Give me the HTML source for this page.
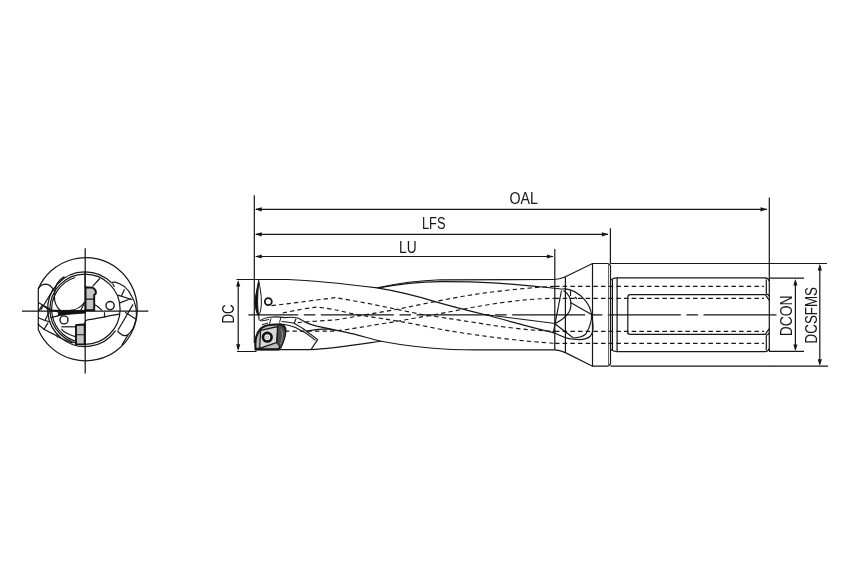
<!DOCTYPE html>
<html><head><meta charset="utf-8">
<style>
html,body{margin:0;padding:0;background:#fff;width:850px;height:567px;overflow:hidden}
svg{display:block;will-change:transform}
text{font-family:"Liberation Sans",sans-serif;font-size:16.3px;fill:#161616}
</style></head>
<body>
<svg width="850" height="567" viewBox="0 0 850 567">
<rect width="850" height="567" fill="#fff"/>
<!-- ===== dimensions ===== -->
<g fill="none" stroke="#161616" stroke-width="1.2">
<path d="M254.3,195.2V343 M554.8,248.9V350 M610.4,228.2V263.5 M769.3,197.6V351"/>
<path d="M256,209.3H767 M256,234.3H608 M256,256.5H553"/>
<path d="M236.5,279.5H254 M237,351.5H256.5 M769,278.1H804 M769,351.4H804 M769,263.5H827 M769,366.2H828"/>
<path d="M238.2,282V349 M795.4,281V349.5 M819.8,266V363.5"/>
</g>
<g fill="#161616" stroke="none">
<path d="M254.9,209.3l6.8,-2.1l0,4.2z M767.3,209.3l-6.8,-2.1l0,4.2z"/>
<path d="M254.9,234.3l6.8,-2.1l0,4.2z M608.7,234.3l-6.8,-2.1l0,4.2z"/>
<path d="M254.9,256.5l6.8,-2.1l0,4.2z M553.7,256.5l-6.8,-2.1l0,4.2z"/>
<path d="M238.2,279.9l-2.1,6.6l4.2,0z M238.2,350.9l-2.1,-6.6l4.2,0z"/>
<path d="M795.4,279.0l-2.1,6.6l4.2,0z M795.4,351.0l-2.1,-6.6l4.2,0z"/>
<path d="M819.8,263.8l-2.1,6.7l4.2,0z M819.8,365.9l-2.1,-6.7l4.2,0z"/>
</g>
<text x="509.5" y="204.2" textLength="28.5" lengthAdjust="spacingAndGlyphs">OAL</text>
<text x="422" y="228.5" textLength="23.5" lengthAdjust="spacingAndGlyphs">LFS</text>
<text x="399" y="252.6" textLength="17.6" lengthAdjust="spacingAndGlyphs">LU</text>
<text transform="translate(233.9,323.6) rotate(-90)" textLength="19.3" lengthAdjust="spacingAndGlyphs">DC</text>
<text transform="translate(791.9,336.3) rotate(-90)" textLength="40.8" lengthAdjust="spacingAndGlyphs">DCON</text>
<text transform="translate(816.6,343.4) rotate(-90)" textLength="56.4" lengthAdjust="spacingAndGlyphs">DCSFMS</text>

<!-- ===== centerlines ===== -->
<g fill="none" stroke="#161616" stroke-width="1.25">
<path d="M776.5,314.8H248.3" stroke-dasharray="73 5.5 11.5 5.66"/>
<path d="M22,311H148.3 M85.2,248.2V373.4"/>
</g>

<!-- ===== shank ===== -->
<g fill="none" stroke="#161616" stroke-width="1.2">
<path d="M554.6,279.5 C558,279.5 561,278.8 565.4,276.8 L592.5,263.5 H608.4 M610.4,263.5 H769.3 M554.6,349.9 C558,349.9 561,350.6 565.4,352.6 L592.5,366.2 H608.4 M610.4,366.2 H769.3"/>
<path d="M565.4,276.8V352.6 M592.5,263.5V366.2 M608.4,263.5 L610.5,265.5 V364 L608.4,366.2"/>
<path d="M608.5,264V366" stroke-width="0.9" stroke="#555"/>
<path d="M610.6,280 C612.5,278.5 614,277.8 617.1,277.8 H765 Q768.5,278 769.3,281 M610.6,349.6 C612.5,351 614,351.6 617.1,351.6 H765 Q768.5,351.4 769.3,348.5"/>
<path d="M612.4,279.5V350.2 M617.1,277.8V351.6"/>
<path d="M766.3,279.5 V293 Q766.3,294.6 768,294.6 L769.3,296 M766.3,350 V336.2 Q766.3,334.5 768,334.5 L769.3,333"/>
<path d="M627.8,334.3 V297 Q627.8,294.6 630.2,294.6 H765.3 L769.3,300.3 M627.8,297 V332 Q627.8,334.3 630.2,334.3 H765.3 L769.3,328.7"/>
</g>
<g fill="none" stroke="#161616" stroke-width="1.2" stroke-dasharray="4.5 3.17">
<path d="M555,286.4H764 M555,298.3H764 M555,331.3H764 M555,343.3H764"/>
</g>

<!-- ===== body ===== -->
<g fill="none" stroke="#161616" stroke-width="1.15">
<path d="M254.5,279.5H288"/>
<path d="M255,349.6H311 C330,349 355,345 381.2,341.2"/>
<path d="M480,349.9 L554.6,349.9"/>
<!-- A -->
<path d="M288,279.5 C310,280.3 335,282.6 377.3,287.9 C405,292.5 420,297 435,301.6 C452,306.5 470,311 484.4,314.5 C510,321 530,327.5 553.5,332.6"/>
<!-- B double -->
<path d="M377.3,287.9 C390,285 415,280.6 440.6,279.8 C460,279.5 480,279.5 554.6,279.5"/>
<path d="M378.2,288 C395,284.8 415,282 440.6,281.6 C480,281.5 500,282.5 563.5,289.2"/>

<!-- D -->
<path d="M285,317.6 C289,317 294,317.2 297.7,318 C301,319.5 303,321 306.2,322.6 C310,324.2 313,325.2 316.8,326.1 L345.3,332.1 C360,335 370,339 381.2,341.2 C400,344.8 425,348 451.8,349.5 C465,350 475,349.9 480,349.9"/>
<!-- pocket rail -->
<path d="M281.6,321.5 C286,321.8 291,322.5 294.2,323.3 C297,325 300,326.5 302.6,328.2 L317.6,339.6 L311.2,349.4"/>
<path d="M283,324.3 C288,325 292,326.2 295.6,327.5 C299,329.5 302,331 306.2,333.2 L315.5,340.4"/>
<path d="M296,318.7 L294.2,323.3 M306.2,331 C313,330 320,329 328.8,328.9 L335.5,330.5"/>
<!-- E and runout -->
<path d="M484.4,314.5 L555.2,323.5"/>
<path d="M561.5,290.5 L553.2,333.4"/>
<path d="M563.5,288.6 C572,289 578,292 584.5,299.7 C589,305 591,310 591.6,314.5 C592,320 590.5,326 585.7,334.3 C582,337 578,338 573.4,338"/>
<path d="M563.5,290.5 C569,294 571.5,300 570.9,306 C570.5,312 566,318 554.9,323.8 L573.4,338"/>
<path d="M570.5,302.5 L591.6,314.5"/>
<path d="M552.4,331.8 C560,336 567,339 573.4,339.2 C580,340 587,339.5 590.5,336 C593,333 593.5,327 592.5,320.7"/>
<path d="M570.5,290 V296 M575,297 L577,299"/>
</g>
<!-- hidden lines in body -->
<g fill="none" stroke="#161616" stroke-width="1.15" stroke-dasharray="4.3 3.2">
<path d="M271.5,305.6 C295,303 315,300 335.3,297.7 C350,300 366,303 382.6,306.3 C400,310 420,314.5 435,316.5 C460,320 480,323.5 500,326.4 C520,329 540,331 555,331.3"/>
<path d="M282.6,313 C295,310.5 307,308 317.5,307.1 C325,308 332,309.2 337.4,310.2 C345,312 350,313.2 354.8,314.2 C365,316 375,317.5 385,319 C400,321.5 420,325 435,328.2 C460,333 480,335.5 500,338.1 C520,340.5 540,342.5 555,343.3"/>
<path d="M297.7,322.6 C310,321.5 325,320.5 336.6,319.8 C355,316.5 370,314 385,311.4 C402,308.5 418,305 435,301.6 C458,297 478,293.5 500,291.1 C520,288.8 540,286.8 555,286.4"/>
<path d="M285,331.1 H333 C337,330.8 341,330.3 345.3,329.7 C360,327.5 372,325.3 385,323.3 C402,320.5 418,317.5 435,314.6 C458,310.3 478,306 500,302.9 C520,300 540,298.5 555,298.3"/>
</g>

<!-- ===== tip ===== -->
<g fill="none" stroke="#161616" stroke-width="1.15">
<path d="M260,320.8 C263,318.5 266,317.6 269.4,317.3 C274,316.7 280,316.8 285,317.6"/>

</g>
<path d="M258.7,280.3 C257.4,288 255.2,296 255.1,302 C255.1,308 256.8,314 258.6,316 C260.4,313 261.4,307 261.4,302 C261.4,295 260,287 258.7,280.3Z" fill="#fff" stroke="#161616" stroke-width="1"/>
<path d="M258.6,283 C257.2,290 255.6,296 255.5,302 C255.5,307.5 256.8,312.5 258.5,315.5 C258,310 257.6,306 257.6,301 C257.6,295 258,289 258.6,283 Z" fill="#111" stroke="#111" stroke-width="1"/>
<path d="M258.7,316 L259.2,320.5" stroke="#666" stroke-width="1.7"/>
<circle cx="268.3" cy="301.6" r="3.5" fill="none" stroke="#161616" stroke-width="1.8"/>
<!-- insert -->
<path d="M255.6,349.4 C255.2,345 255.3,340 256.2,336.7 C257.5,333.5 258.8,330.8 260.6,328.7 C263.5,326.2 267.5,325 271.7,324.8 L280.8,324.2 C283.8,325.3 285.6,327.8 285.5,330.6 C285,336 282.8,342 280.6,346.4 L278.5,349.4 Z" fill="#bdbdbd" stroke="#111" stroke-width="2.1"/>
<path d="M277.6,326.4 L279.5,324.6 C283,325.4 285.4,328 285.6,331.4 C285.6,336 283.6,342.5 280.8,348.3 L276.6,342.6 Z" fill="#4a4a4a" stroke="#111" stroke-width="1"/>
<path d="M260.6,330.4 L277.6,326.6 L276.6,342.6 L259.7,348.3 Z" fill="#d9d9d9" stroke="#111" stroke-width="1.2"/>
<path d="M257,333 C258,331.5 259,330.8 260.6,330.4 M257,348.5 L259.7,348.3" fill="none" stroke="#222" stroke-width="1.6"/>
<path d="M281,329 C283,333 283,338 280.5,344" fill="none" stroke="#9a9a9a" stroke-width="0.9"/>
<circle cx="267.3" cy="337.2" r="4.3" fill="#fff" stroke="#111" stroke-width="2.7"/>
<circle cx="267.3" cy="337.2" r="1.4" fill="#f4f4f4" stroke="#888" stroke-width="0.7"/>
<path d="M261.6,321 L269,319.5 M262,324.8 L268,323 M269.5,323.8 L271,318.5 M279.5,322.5 L281,317" fill="none" stroke="#161616" stroke-width="1"/>
<!-- ===== end view ===== -->
<g fill="none" stroke="#161616" stroke-width="1.2">
<path d="M38.3,288.7 A51.6,51.6 0 1 1 38.3,329.7 Z"/>
<path d="M111.9,283.2 A37.4,37.4 0 1 0 115.6,330.7"/>
<circle cx="85" cy="309.2" r="35.1"/>
<path d="M75,277.5 A33.2,33.2 0 0 0 85,342.4"/>
<path d="M112,283 C112.5,282 114,281.8 116,282.4 C119,283.3 122,285 124.5,286.6 C127.5,289 130,292.5 131.8,296.5 C133.3,299 134.5,301.5 135.1,304.4 C136,307 136.4,309.5 136.4,312.3 C136.5,315 136.3,318 135.7,320.3 C135.2,323 134.3,325.7 133.1,328.2 C131.6,331 130,333 127.8,334.8 C125.8,336 123,335.8 121.2,334.2 C119.5,333 118.3,332 117.4,330.8"/>
<path d="M124.5,289.2 L121.2,296.5 M117.9,295.1 L132.4,299.8 M119.2,303.1 L131.1,298.5 M125.1,312.3 L135.7,319 M117.9,330.2 L133.1,304.4 M128.2,334.6 L121.9,345 M112.5,283.5 L114.5,287"/>
<path d="M38.3,288.7 C40,285.5 43,284.3 45.7,284.2 C49,284.2 52,287 54.2,291.2"/>
<path d="M40.8,310 L53.5,289 M38.3,302.5 L50.6,309.5 M42.2,305 L38.3,311.7 M42.2,305 L49.9,310.6 M49.9,310.6 L45,320.5"/>
<path d="M37.8,323.7 C40,326.5 42,328 44.5,329.5 C48,331.5 51,333 54.2,334.4 C56.5,335.8 58.8,337.2 61,338.3 C64.5,340 68.5,342 72.7,343.1 M38.3,317.7 C41,319 45,320.8 50.5,322 M43.6,330 L48.2,322.6"/>
<path d="M64.5,276.6 C58,280 54.5,287 54.3,295 C54.2,302 56.5,307.5 60.4,310.5 M70.6,310.4 C76,310 81,307 84.7,302"/>
<circle cx="110.1" cy="305.6" r="4.1" stroke-width="1.4"/>
<circle cx="64" cy="319.9" r="4" stroke-width="1.4"/>
<path d="M87.5,319.8 C92,319.2 97,318.6 102.1,317.4 C108,316.2 113,315 119.2,314.2 M87.5,319.8 C86,320 85,321 84.8,322.5 V324.6"/>
<path d="M104.5,312.2 V317.6 M92.6,286.4 L99.8,278.5 M91,303.1 L97.4,306.3 L102.1,310.4 M80.7,310.4 L84.7,302.3"/>
<path d="M61.4,326.8 H76.2"/>

<path d="M61.4,328.9 C62.2,330 63,331 64.2,331.8 C66.5,333.3 68.8,334.5 71.3,335.3 C72.8,335.9 74,336.3 75.5,336.7"/>
<path d="M56.5,334.6 L57.9,337.4"/>
</g>
<path d="M59,310.4 L85.5,310.4 L85.5,313 L66,314.4 L58,315.8Z" fill="#111" stroke="#111" stroke-width="0.9"/>
<path d="M49.4,310.3 H60 M50.7,317.6 L59,315.6 M49.4,310.2 L66,313.4 M45,306.6 L49.4,310.1" fill="none" stroke="#161616" stroke-width="1.2"/>
<g stroke="#111" stroke-width="1.9" fill="#c4c4c4">
<path d="M85.5,287.2 L92.6,287.6 C95,289 96.3,291 95.8,293.5 L94.2,295 V310.2 H85.5Z"/>
<path d="M76,325.2 C78.5,324.6 81.5,324.5 84.7,324.5 V344.4 H76Z"/>
</g>
<g stroke="#111" stroke-width="1.1" fill="none">
<path d="M85.5,299.1 H94.2 M76,334.8 H84.7"/>
<path d="M85,271.5 V287.2"/>
</g>
</svg>
</body></html>
